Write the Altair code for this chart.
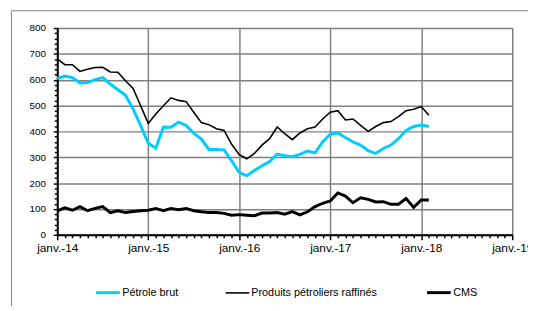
import altair as alt
import pandas as pd

# month index 0 = janv. 2014
annees = ["janv.-14", "janv.-15", "janv.-16", "janv.-17", "janv.-18", "janv.-19"]
series = ["Pétrole brut", "Produits pétroliers raffinés", "CMS"]

petrole_brut = [604, 614, 608, 587, 589, 600, 608, 583, 561, 540,
                487, 422, 354, 335, 417, 416, 436, 423, 393, 370,
                330, 330, 328, 286, 241, 229, 249, 267, 283, 312,
                306, 302, 311, 324, 317, 359, 389, 394, 376, 359,
                347, 325, 315, 334, 347, 372, 404, 419, 425, 419]

produits_raffines = [681, 658, 658, 632, 640, 647, 648, 630, 629, 596,
                     566, 499, 431, 467, 499, 530, 520, 515, 474, 434,
                     426, 410, 404, 350, 310, 294, 315, 347, 372, 417,
                     391, 368, 394, 410, 417, 448, 474, 480, 444, 448,
                     423, 400, 419, 434, 438, 457, 480, 486, 496, 463]

cms = [93, 104, 95, 109, 93, 102, 109, 86, 93, 86,
       90, 93, 95, 102, 93, 102, 97, 102, 93, 89,
       86, 86, 83, 76, 78, 76, 74, 84, 84, 86,
       80, 90, 77, 89, 109, 122, 131, 162, 150, 124,
       143, 137, 127, 128, 118, 118, 140, 106, 135, 135]

couleurs = ["#00CCFF", "#000000", "#000000"]
epaisseurs = [3, 1.6, 3]

rows = []
for nom, vals in zip(series, [petrole_brut, produits_raffines, cms]):
    for i, v in enumerate(vals):
        rows.append({"mois": i, "valeur": v, "serie": nom})
df = pd.DataFrame(rows)

labels_js = "[" + ",".join("'" + a + "'" for a in annees) + "]"

leg = alt.Legend(
    title=None, orient="none", legendX=38, legendY=255, direction="horizontal",
    symbolType="stroke", symbolSize=576, labelOffset=1, columnPadding=44,
    labelFont="Liberation Sans", labelFontSize=11, labelColor="black", padding=0,
)

lines = alt.Chart(df).mark_line().encode(
    x=alt.X("mois:Q", title=None,
            scale=alt.Scale(domain=[0, 60], nice=False, zero=False),
            axis=alt.Axis(
                values=list(range(0, 61)),
                labelExpr="datum.value % 12 === 0 ? " + labels_js + "[datum.value/12] : ''",
                labelOverlap=False, labelFlush=False,
                labelFont="Liberation Sans", labelFontSize=12, labelColor="black",
                labelPadding=3,
                domainColor="black", domainWidth=2,
                tickColor="black", tickWidth=1.5,
                tickSize={"condition": {"test": "datum.value % 12 === 0", "value": 5}, "value": 3},
                grid=True, gridColor="#808080", gridWidth=1.5,
                gridOpacity={"condition": {"test": "datum.value % 12 === 0", "value": 1}, "value": 0},
            )),
    y=alt.Y("valeur:Q", title=None,
            scale=alt.Scale(domain=[0, 800], nice=False),
            axis=alt.Axis(
                values=list(range(0, 801, 20)),
                labelExpr="datum.value % 100 === 0 ? datum.value : ''",
                labelOverlap=False, labelFlush=False,
                labelFont="Liberation Sans", labelFontSize=10, labelColor="black",
                labelPadding=8,
                domainColor="black", domainWidth=2,
                tickColor="black", tickWidth=1.5,
                tickSize={"condition": {"test": "datum.value % 100 === 0", "value": 4}, "value": 3},
                grid=True, gridColor="#808080", gridWidth=1.5,
                gridOpacity={"condition": {"test": "datum.value % 100 === 0", "value": 1}, "value": 0},
            )),
    color=alt.Color("serie:N", sort=series,
                    scale=alt.Scale(type="ordinal", domain=series, range=couleurs), legend=leg),
    strokeWidth=alt.StrokeWidth("serie:N", sort=series,
                                scale=alt.Scale(type="ordinal", domain=series, range=epaisseurs),
                                legend=leg),
)

cadre = alt.Chart(alt.Data(values=[{}])).mark_rect(
    fillOpacity=0, stroke="#808080", strokeWidth=1
).encode(
    x=alt.value(-46.5), x2=alt.value(700), y=alt.value(-17.5), y2=alt.value(500)
)

chart = alt.layer(cadre, lines).properties(
    width=462, height=210,
    autosize="none",
    padding={"left": 50, "top": 18, "right": 16, "bottom": 70},
).configure_view(
    stroke="black", strokeWidth=1.5
).configure(background="white")

chart.save("out.html", embed_options={"renderer": "svg", "actions": False})
